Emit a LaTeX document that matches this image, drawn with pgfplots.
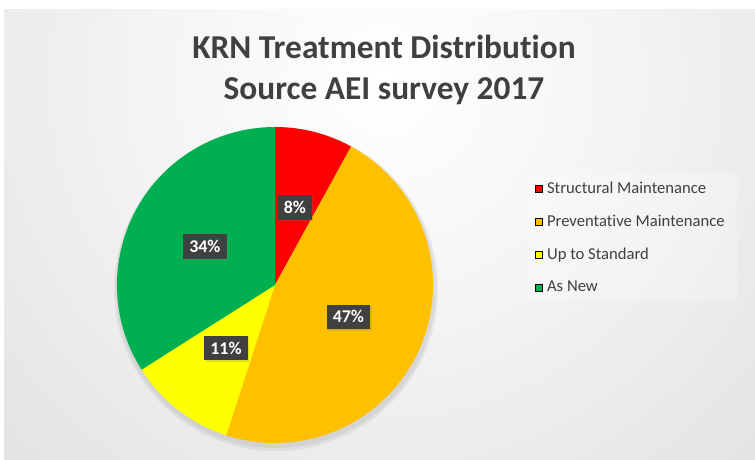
\documentclass[border=0pt]{standalone}
\usepackage{pgfplots}
\pgfplotsset{compat=1.18}
\usepackage{pgfplotstable}
\usepackage{fontspec}
\setmainfont{Carlito}[Ligatures=NoCommon]
\usetikzlibrary{shadows,calc}

\definecolor{cStruct}{HTML}{FF0000}
\definecolor{cPrev}{HTML}{FFC000}
\definecolor{cStd}{HTML}{FFFF00}
\definecolor{cNew}{HTML}{00B050}
\definecolor{txt}{HTML}{404040}
\definecolor{boxc}{HTML}{404040}
\definecolor{bgedge}{HTML}{C2C2C2}

\pgfdeclareradialshading{bg}{\pgfpoint{0bp}{0bp}}{color(0bp)=(white); color(10bp)=(white!96!black); color(50bp)=(bgedge); color(100bp)=(bgedge)}

% shares in percent, clockwise from 12 o'clock
\pgfplotstableread{
share colour
8  cStruct
47 cPrev
11 cStd
34 cNew
}\shares

\begin{document}
\begin{tikzpicture}[x=1bp,y=1bp]
\useasboundingbox (0,0) rectangle (755,460);
\fill[white] (0,0) rectangle (755,460);
\begin{scope}
  \clip (4,0) rectangle (755,450);
  \shade[shading=bg] (385,380) circle (560);
\end{scope}

\begin{axis}[
  at={(275,175)}, anchor=origin,
  x=1bp, y=1bp,
  xmin=-160, xmax=160, ymin=-160, ymax=160,
  hide axis, clip=false,
  title={KRN Treatment Distribution\\Source AEI survey 2017},
  title style={at={(axis cs:109,209)}, anchor=center, align=center,
    font=\bfseries\fontsize{33.5}{41}\selectfont, text=txt},
  legend image code/.code={\fill[#1, fill opacity=1] (0bp,-3.5bp) rectangle (7bp,3.5bp);},
  legend cell align=left,
  legend style={at={(axis cs:252,111)}, anchor=north west,
    draw=none, fill=white, fill opacity=0.25, text opacity=1,
    font=\fontsize{16.7}{20}\selectfont, text=txt,
    row sep=20bp, inner xsep=8bp, inner ysep=8bp,
    nodes={inner xsep=4.5bp, inner ysep=0bp},
    minimum width=0pt},
]
\addlegendimage{fill=cStruct}\addlegendentry{Structural Maintenance}
\addlegendimage{fill=cPrev}\addlegendentry{Preventative Maintenance}
\addlegendimage{fill=cStd}\addlegendentry{Up to Standard}
\addlegendimage{fill=cNew}\addlegendentry{As New}

\pgfplotsextra{
  \fill[black, opacity=0.06] (axis cs:1,-4) circle (162bp);
  \fill[black, opacity=0.05] (axis cs:1,-3) circle (160bp);
  \def\startangle{90}
  \pgfplotsforeachungrouped \i in {0,...,3}{%
    \pgfplotstablegetelem{\i}{share}\of\shares \let\val\pgfplotsretval
    \pgfplotstablegetelem{\i}{colour}\of\shares \let\col\pgfplotsretval
    \pgfmathsetmacro\endangle{\startangle-3.6*\val}
    \fill[fill=\col] (axis cs:0,0) -- ++(\startangle:158bp)
      arc[start angle=\startangle, end angle=\endangle, radius=158bp] -- cycle;
    \let\startangle\endangle
  }
  \def\startangle{90}
  \pgfplotsforeachungrouped \i in {0,...,3}{%
    \pgfplotstablegetelem{\i}{share}\of\shares \let\val\pgfplotsretval
    \pgfmathsetmacro\endangle{\startangle-3.6*\val}
    \pgfmathsetmacro\midangle{(\startangle+\endangle)/2}
    \node[fill=boxc, text=white, font=\bfseries\fontsize{18}{20}\selectfont,
      inner xsep=6bp, inner ysep=6bp,
      drop shadow={shadow xshift=1.5bp, shadow yshift=-1.5bp, opacity=0.25}]
      at ($(axis cs:0,0)+(\midangle:80bp)$) {\val\%};
    \let\startangle\endangle
  }
}
\end{axis}
\end{tikzpicture}
\end{document}
